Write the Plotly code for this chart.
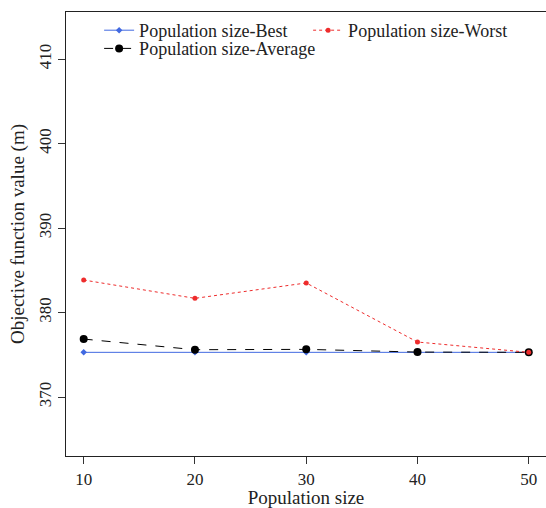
import plotly.graph_objects as go

pop_size = [10, 20, 30, 40, 50]
best = [375.3, 375.3, 375.3, 375.3, 375.3]
average = [376.87, 375.61, 375.65, 375.33, 375.3]
worst = [383.86, 381.69, 383.51, 376.52, 375.3]
y_ticks = [370, 380, 390, 400, 410]
x_ticks = [10, 20, 30, 40, 50]

FONT = "Liberation Serif, DejaVu Serif, Times New Roman, serif"

fig = go.Figure()
fig.add_trace(go.Scatter(
    x=pop_size, y=best, mode="lines+markers", name="Population size-Best",
    line=dict(color="#4169E1", width=1),
    marker=dict(symbol="diamond", size=5, color="#4169E1"),
    legend="legend", legendrank=1))
fig.add_trace(go.Scatter(
    x=pop_size, y=average, mode="lines+markers", name="Population size-Average",
    line=dict(color="black", width=1, dash="dash"),
    marker=dict(symbol="circle", size=8, color="black"),
    legend="legend2"))
fig.add_trace(go.Scatter(
    x=pop_size, y=worst, mode="lines+markers", name="Population size-Worst",
    line=dict(color="#EE2C2C", width=1, dash="dot"),
    marker=dict(symbol="circle", size=5, color="#EE2C2C"),
    legend="legend", legendrank=2))

legend_common = dict(
    orientation="h", xanchor="left", yanchor="top",
    bgcolor="rgba(0,0,0,0)", font=dict(family=FONT, size=18, color="#222"),
    tracegroupgap=0, itemwidth=30,
)

fig.update_layout(
    width=546, height=508,
    margin=dict(l=66, r=0, t=12, b=52, autoexpand=False),
    paper_bgcolor="white", plot_bgcolor="white",
    font=dict(family=FONT, size=17, color="#222"),
    showlegend=True,
    legend=dict(x=0.069, y=1.0, entrywidth=164, **legend_common),
    legend2=dict(x=0.069, y=0.959, **legend_common),
    xaxis=dict(
        range=[8.41, 51.55], tickvals=x_ticks, ticks="outside", ticklen=7,
        tickcolor="#333", showline=True, linecolor="#222", linewidth=1.2,
        mirror=True, showgrid=False, zeroline=False,
        title=dict(text="Population size", font=dict(family=FONT, size=19), standoff=8),
    ),
    yaxis=dict(
        range=[363.03, 415.58], tickvals=y_ticks, ticks="outside", ticklen=7,
        tickcolor="#333", showline=True, linecolor="#222", linewidth=1.2,
        showgrid=False, zeroline=False, tickangle=-90,
        title=dict(text="Objective function value (m)", font=dict(family=FONT, size=19), standoff=6),
    ),
)

fig.write_html(
    "out.html",
    config={"displayModeBar": False},
    post_script="document.body.style.margin='0px';document.body.style.overflow='hidden';",
)
